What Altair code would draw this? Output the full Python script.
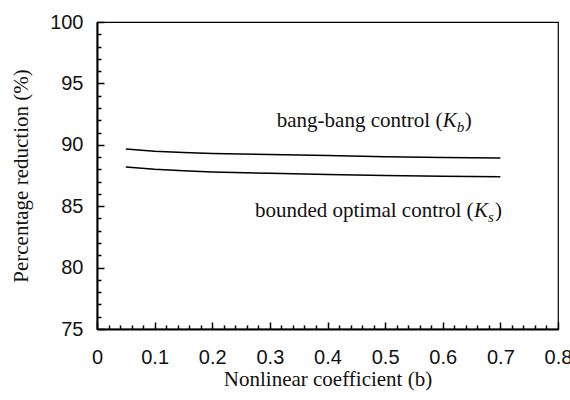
import altair as alt
import pandas as pd

# ---- data ----
b_vals = [0.05, 0.1, 0.15, 0.2, 0.3, 0.4, 0.5, 0.6, 0.7]
bang_bang = [89.66, 89.48, 89.38, 89.30, 89.20, 89.12, 89.03, 88.97, 88.93]
bounded = [88.19, 88.00, 87.88, 87.79, 87.68, 87.58, 87.50, 87.44, 87.40]

x_ticks = [round(i * 0.02, 2) for i in range(41)]
y_ticks = list(range(75, 101))

ann_main = ["bang-bang control (", "bounded optimal control ("]
ann_sub = ["b", "s"]
ann_x = [0.312, 0.274]
ann_y = [91.47, 84.14]

SANS = "Liberation Sans"
SERIF = "Liberation Serif"

rows = []
for b, v in zip(b_vals, bang_bang):
    rows.append({"b": b, "v": v, "series": "bang-bang"})
for b, v in zip(b_vals, bounded):
    rows.append({"b": b, "v": v, "series": "bounded"})
df = pd.DataFrame(rows)

ann = pd.DataFrame({"main": ann_main, "sub": ann_sub, "x": ann_x, "y": ann_y})

xs = alt.Scale(domain=[0, 0.8], nice=False, zero=False)
ys = alt.Scale(domain=[75, 100], nice=False, zero=False)

X_MAJOR = "abs(datum.value * 10 - round(datum.value * 10)) < 0.001"
Y_MAJOR = "abs(datum.value % 5) < 0.001"

main = alt.Chart(df).mark_line(color="black", strokeWidth=1.5).encode(
    x=alt.X("b:Q", scale=xs, axis=alt.Axis(
        values=x_ticks, tickCount=200,
        labelExpr=f"({X_MAJOR}) ? format(datum.value, '.1~f') : ''",
        ticks=True, tickSize={"expr": f"({X_MAJOR}) ? -7 : -4"},
        tickColor="black", tickWidth=1.5, zindex=1,
        domain=True, domainColor="black", domainWidth=2, grid=False,
        labelFont=SANS, labelFontSize=20, labelColor="#111", labelPadding=25,
        labelFlush=False, labelOverlap=False, labelBound=False,
        title="Nonlinear coefficient (b)", titleFont=SERIF, titleFontSize=21,
        titleFontWeight="normal", titleColor="#111", titleBaseline="alphabetic",
        titleX=230.5, titleY=56)),
    y=alt.Y("v:Q", scale=ys, axis=alt.Axis(
        values=y_ticks, tickCount=200,
        labelExpr=f"({Y_MAJOR}) ? format(datum.value, 'd') : ''",
        ticks=True, tickSize={"expr": f"({Y_MAJOR}) ? -7 : -4"},
        tickColor="black", tickWidth=1.5, zindex=1,
        domain=True, domainColor="black", domainWidth=2, grid=False,
        labelFont=SANS, labelFontSize=20, labelColor="#111", labelPadding=21,
        labelOverlap=False, labelBound=False,
        title="Percentage reduction (%)", titleFont=SERIF, titleFontSize=21,
        titleFontWeight="normal", titleColor="#111", titleBaseline="alphabetic",
        titleX=-70, titleY=153.5)),
    detail="series:N",
)


def txt(data, text_enc, dx=0, dy=0, size=21, italic=False):
    kw = dict(font=SERIF, fontSize=size, align="left", baseline="alphabetic",
              color="#111", dx=dx, dy=dy)
    if italic:
        kw["fontStyle"] = "italic"
    return alt.Chart(data).mark_text(**kw).encode(
        x=alt.X("x:Q", scale=xs),
        y=alt.Y("y:Q", scale=ys),
        text=text_enc,
    )


r0 = ann.iloc[[0]]
r1 = ann.iloc[[1]]

chart = alt.layer(
    main,
    txt(ann, "main:N"),
    txt(r0, alt.value("K"), dx=166, italic=True),
    txt(r0, "sub:N", dx=180, dy=5, size=15, italic=True),
    txt(r0, alt.value(")"), dx=188),
    txt(r1, alt.value("K"), dx=219, italic=True),
    txt(r1, "sub:N", dx=233, dy=5, size=15, italic=True),
    txt(r1, alt.value(")"), dx=240),
).properties(
    width=461, height=307,
    autosize=alt.AutoSizeParams(type="none"),
    padding={"left": 97, "top": 22, "right": 12, "bottom": 71},
    background="white",
).configure_view(stroke="black", strokeWidth=1.2)

chart.save("out.html", embed_options={"renderer": "svg", "actions": False})
